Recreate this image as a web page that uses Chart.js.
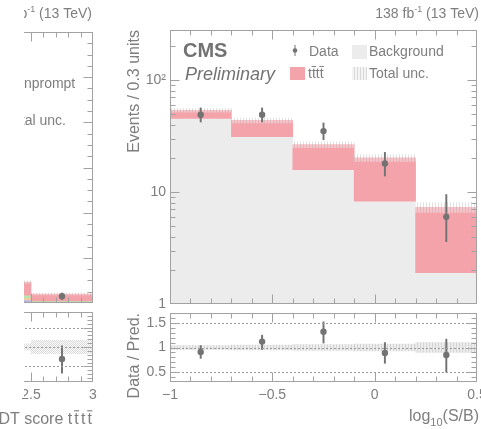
<!DOCTYPE html>
<html>
<head>
<meta charset="utf-8">
<script src="https://cdn.jsdelivr.net/npm/chart.js@4.4.1/dist/chart.umd.min.js"></script>
<style>
  html, body { margin: 0; padding: 0; background: #fff; overflow: hidden; }
  #wrap { position: relative; width: 481px; height: 429px; overflow: hidden; background: #fff; }
  canvas { position: absolute; top: 0; }
  #leftMain, #leftRatio { left: -60px; }
  #rightMain, #rightRatio { left: 0; }
  #mask { position: absolute; left: 0; top: 0; width: 24px; height: 398px; background: #fff; }
</style>
</head>
<body>
<div id="wrap">
  <canvas id="leftMain" width="160" height="429"></canvas>
  <canvas id="leftRatio" width="160" height="429"></canvas>
  <div id="mask"></div>
  <canvas id="rightMain" width="481" height="429"></canvas>
  <canvas id="rightRatio" width="481" height="429"></canvas>
</div>
<script>
// ---------- log10(S/B) distribution (right panel) ----------
const binCenters      = [-0.85, -0.55, -0.25, 0.05, 0.35];
const backgroundYield = [45.5, 31.3, 15.8, 8.3, 1.9];
const ttttYield       = [8.2, 12.3, 10.7, 11.9, 5.4];
const totalUncFrac    = [0.04, 0.05, 0.06, 0.07, 0.10];
const dataCounts      = [49, 49, 35, 18, 6];
const dataErrLow      = [42.2, 42.2, 29.3, 13.9, 3.6];
const dataErrHigh     = [56.4, 56.4, 41.4, 22.6, 9.5];
const ratioValues     = [0.91, 1.12, 1.32, 0.89, 0.85];
const ratioErrLow     = [0.78, 0.96, 1.09, 0.68, 0.50];
const ratioErrHigh    = [1.04, 1.25, 1.52, 1.10, 1.17];
const xTickValues     = [-1, -0.5, 0, 0.5];
const xTickLabels     = ['\u22121', '\u22120.5', '0', '0.5'];
const mainYTickValues = [1, 10, 100];
const mainYTickLabels = ['1', '10', '10\u00B2'];
const ratioYTickValues = [0.5, 1, 1.5];
const ratioYTickLabels = ['0.5', '1', '1.5'];

// ---------- BDT score distribution (left panel, last bins) ----------
const leftBinCenters = [2.25, 2.75];
const leftBlue       = [1.4, 0.3];
const leftOrange     = [1.0, 0.2];
const leftGreen      = [1.1, 0.4];
const leftTttt       = [5.8, 3.1];
const leftUncFrac    = [0.06, 0.10];
const leftDataX      = [2.75];
const leftDataY      = [3];
const leftDataLow    = [1.6];
const leftDataHigh   = [4.4];
const leftRatio      = [0.69];
const leftRatioLow   = [0.33];
const leftRatioHigh  = [1.03];
const leftRatioUnc   = [0.08, 0.17];
const leftXTickValues = [2.5, 3];
const leftXTickLabels = ['2.5', '3'];

// ---------- styling ----------
const FONT = "'Liberation Sans', Arial, Helvetica, sans-serif";
const TXT = '#7e7e7e';
const FRAME = '#a2a2a2';
const DATA = '#737373';
const PINK = '#f5a3ab';
const BKG = '#ececec';
Chart.defaults.font.family = FONT;
Chart.defaults.color = TXT;

function makePattern(w, h, draw) {
  const c = document.createElement('canvas');
  c.width = w; c.height = h;
  const g = c.getContext('2d');
  draw(g);
  return g.createPattern(c, 'repeat');
}
const uncHatch = makePattern(3, 3, g => {
  g.fillStyle = 'rgba(255,255,255,0.35)';
  g.fillRect(0, 0, 3, 3);
  g.fillStyle = 'rgba(160,160,160,0.32)';
  g.fillRect(0, 0, 1, 3);
});
const ratioHatch = makePattern(3, 3, g => {
  g.fillStyle = 'rgba(220,220,220,0.55)';
  g.fillRect(0, 0, 3, 3);
  g.fillStyle = 'rgba(180,180,180,0.4)';
  g.fillRect(0, 0, 1, 3);
});
const checkHatch = makePattern(2, 2, g => {
  g.fillStyle = 'rgba(175,175,175,0.5)';
  g.fillRect(0, 0, 1, 1);
  g.fillRect(1, 1, 1, 1);
});

const range = (a, b, step) => {
  const out = [];
  for (let v = a; v <= b + 1e-9; v += step) out.push(+v.toFixed(6));
  return out;
};
const logMinor = [];
[1, 10, 100].forEach(d => { for (let k = 2; k <= 9; k++) logMinor.push(k * d); });

const floating = (xs, lo, hi) => xs.map((x, i) => ({ x, y: [lo[i], hi[i]] }));
const points = (xs, ys) => xs.map((x, i) => ({ x, y: ys[i] }));
const cumulative = (...layers) => {
  const out = [];
  let run = layers[0].map(() => 0);
  layers.forEach(l => { const lo = run.slice(); run = run.map((v, i) => v + l[i]); out.push([lo, run.slice()]); });
  return out;
};

const fixBox = (w, h) => s => {
  if (w !== undefined) s.width = w;
  if (h !== undefined) s.height = h;
  s.paddingLeft = s.paddingRight = s.paddingTop = s.paddingBottom = 0;
};

// Frame with inward ROOT-style ticks, plus optional dotted reference lines
const rootFrame = {
  id: 'rootFrame',
  afterDatasetsDraw(chart, _args, o) {
    const { ctx, chartArea: a } = chart;
    const xs = chart.scales.x, ys = chart.scales.y;
    ctx.save();
    ctx.lineWidth = 1;
    const seg = (x1, y1, x2, y2) => { ctx.beginPath(); ctx.moveTo(x1, y1); ctx.lineTo(x2, y2); ctx.stroke(); };
    if (o.refLines) {
      ctx.strokeStyle = '#9a9a9a';
      ctx.setLineDash([2, 2]);
      o.refLines.forEach(v => {
        const py = Math.round(ys.getPixelForValue(v)) + 0.5;
        seg(a.left, py, a.right, py);
      });
      ctx.setLineDash([]);
    }
    ctx.strokeStyle = FRAME;
    const L = Math.round(a.left) + 0.5, R = Math.round(a.right) - 0.5;
    const T = Math.round(a.top) + 0.5, B = Math.round(a.bottom) - 0.5;
    const xTick = (v, len) => {
      const px = Math.round(xs.getPixelForValue(v)) + 0.5;
      if (px < L - 0.1 || px > R + 0.1) return;
      if (o.bottom !== false) seg(px, B, px, B - len);
      if (o.top !== false) seg(px, T, px, T + len);
    };
    const yTick = (v, len) => {
      const py = Math.round(ys.getPixelForValue(v)) + 0.5;
      if (py < T - 0.1 || py > B + 0.1) return;
      if (o.left !== false) seg(L, py, L + len, py);
      if (o.right !== false) seg(R, py, R - len, py);
    };
    (o.xMinor || []).forEach(v => xTick(v, o.minLen));
    (o.xMajor || []).forEach(v => xTick(v, o.majLen));
    (o.yMinor || []).forEach(v => yTick(v, o.minLen));
    (o.yMajor || []).forEach(v => yTick(v, o.majLen));
    ctx.strokeRect(L, T, R - L, B - T);
    ctx.restore();
  }
};
Chart.register(rootFrame);

function baseOptions(pad) {
  return {
    responsive: false,
    animation: false,
    events: [],
    layout: { padding: pad },
    plugins: { legend: { display: false }, tooltip: { enabled: false } }
  };
}

function drawTtbar(ctx, x, y, size, advance) {
  ctx.font = size + 'px ' + FONT;
  ctx.textAlign = 'left';
  const tw = ctx.measureText('t').width;
  for (let i = 0; i < 4; i++) {
    const tx = x + i * advance;
    ctx.fillText('t', tx, y);
    if (i % 2 === 1) {
      ctx.fillRect(tx - 0.3, y - size * 0.86, tw + 0.6, Math.max(1, size * 0.07));
    }
  }
  return advance * 3 + tw;
}

function drawLumi(ctx, xRight, y) {
  ctx.textAlign = 'left';
  ctx.font = '14px ' + FONT;
  const w1 = ctx.measureText('138 fb').width;
  const w3 = ctx.measureText(' (13 TeV)').width;
  ctx.font = '9px ' + FONT;
  const w2 = ctx.measureText('-1').width;
  let x = xRight - w1 - w2 - w3;
  ctx.font = '14px ' + FONT;
  ctx.fillText('138 fb', x, y); x += w1;
  ctx.font = '9px ' + FONT;
  ctx.fillText('-1', x, y - 6); x += w2;
  ctx.font = '14px ' + FONT;
  ctx.fillText(' (13 TeV)', x, y);
}

// ================= right panel: main =================
const totalYield = backgroundYield.map((b, i) => b + ttttYield[i]);
const rightMainText = {
  id: 'rightMainText',
  afterDraw(chart) {
    const ctx = chart.ctx;
    ctx.save();
    ctx.fillStyle = TXT;
    ctx.textBaseline = 'alphabetic';
    drawLumi(ctx, 479, 18);
    ctx.fillStyle = '#727272';
    ctx.textAlign = 'left';
    ctx.font = 'bold 20px ' + FONT;
    ctx.fillText('CMS', 183, 57);
    ctx.font = 'italic 18px ' + FONT;
    ctx.fillText('Preliminary', 185, 80);
    // legend
    ctx.fillStyle = DATA;
    ctx.fillRect(294.5, 45, 1, 11);
    ctx.beginPath(); ctx.arc(295, 50.5, 2.3, 0, Math.PI * 2); ctx.fill();
    ctx.fillStyle = BKG;
    ctx.fillRect(352, 45, 15, 14);
    ctx.fillStyle = PINK;
    ctx.fillRect(290, 67, 15, 13);
    ctx.fillStyle = '#eeeeee';
    ctx.fillRect(352, 67, 15, 13);
    ctx.fillStyle = uncHatch;
    ctx.fillRect(352, 67, 15, 13);
    ctx.fillStyle = TXT;
    ctx.font = '14px ' + FONT;
    ctx.fillText('Data', 309, 56);
    ctx.fillText('Background', 369, 56);
    ctx.fillText('Total unc.', 369, 78);
    drawTtbar(ctx, 308, 78, 14, 3.9);
    ctx.restore();
  }
};

new Chart(document.getElementById('rightMain'), {
  type: 'bar',
  data: {
    datasets: [
      { type: 'scatter', data: points(binCenters, dataCounts), pointRadius: 3.2,
        pointBackgroundColor: DATA, pointBorderWidth: 0, order: 0 },
      { data: floating(binCenters, dataErrLow, dataErrHigh), backgroundColor: DATA,
        barThickness: 1.3, grouped: false, order: 1 },
      { data: floating(binCenters, totalYield.map((t, i) => t * (1 - totalUncFrac[i])),
                                   totalYield.map((t, i) => t * (1 + totalUncFrac[i]))),
        backgroundColor: uncHatch, grouped: false, barPercentage: 1, categoryPercentage: 1, order: 2 },
      { data: floating(binCenters, backgroundYield, totalYield), backgroundColor: PINK,
        grouped: false, barPercentage: 1, categoryPercentage: 1, order: 3 },
      { data: floating(binCenters, binCenters.map(() => 1), backgroundYield), backgroundColor: BKG,
        grouped: false, barPercentage: 1, categoryPercentage: 1, order: 4 }
    ]
  },
  options: Object.assign(baseOptions({ left: 125, top: 30, right: 2, bottom: 125 }), {
    scales: {
      x: { type: 'linear', min: -1, max: 0.5, offset: false, display: false,
           grid: { offset: false },
           afterBuildTicks: s => { s.ticks = xTickValues.map(v => ({ value: v })); } },
      y: { type: 'logarithmic', min: 1, max: 280, position: 'left',
           grid: { display: false, drawTicks: false }, border: { display: false },
           ticks: { color: TXT, font: { size: 14 }, padding: 4, autoSkip: false,
                    callback: (v, i) => mainYTickLabels[i] },
           afterBuildTicks: s => { s.ticks = mainYTickValues.map(v => ({ value: v })); },
           afterFit: fixBox(45),
           title: { display: true, text: 'Events / 0.3 units', align: 'end', color: TXT,
                    font: { size: 16 }, padding: 0 } }
    },
    plugins: {
      legend: { display: false }, tooltip: { enabled: false },
      rootFrame: { xMajor: xTickValues, xMinor: range(-1, 0.5, 0.1),
                   yMajor: mainYTickValues, yMinor: logMinor, majLen: 9, minLen: 5 }
    }
  }),
  plugins: [rightMainText]
});

// ================= right panel: ratio =================
const rightRatioText = {
  id: 'rightRatioText',
  afterDraw(chart) {
    const ctx = chart.ctx;
    ctx.save();
    ctx.fillStyle = TXT;
    ctx.textBaseline = 'alphabetic';
    ctx.textAlign = 'left';
    ctx.font = '16px ' + FONT;
    const wSB = ctx.measureText('(S/B)').width;
    const wLog = ctx.measureText('log').width;
    ctx.font = '11px ' + FONT;
    const wSub = ctx.measureText('10').width;
    let x = 479 - wSB - wSub - wLog;
    ctx.font = '16px ' + FONT;
    ctx.fillText('log', x, 421); x += wLog;
    ctx.font = '11px ' + FONT;
    ctx.fillText('10', x, 426); x += wSub;
    ctx.font = '16px ' + FONT;
    ctx.fillText('(S/B)', x, 421);
    ctx.restore();
  }
};

new Chart(document.getElementById('rightRatio'), {
  type: 'bar',
  data: {
    datasets: [
      { type: 'scatter', data: points(binCenters, ratioValues), pointRadius: 3.2,
        pointBackgroundColor: DATA, pointBorderWidth: 0, order: 0 },
      { data: floating(binCenters, ratioErrLow, ratioErrHigh), backgroundColor: DATA,
        barThickness: 1.3, grouped: false, order: 1 },
      { data: floating(binCenters, totalUncFrac.map(u => 1 - u), totalUncFrac.map(u => 1 + u)),
        backgroundColor: ratioHatch, grouped: false, barPercentage: 1, categoryPercentage: 1, order: 2 }
    ]
  },
  options: Object.assign(baseOptions({ left: 125, top: 313, right: 2, bottom: 17 }), {
    scales: {
      x: { type: 'linear', min: -1, max: 0.5, offset: false, position: 'bottom',
           grid: { display: false, drawTicks: false, offset: false }, border: { display: false },
           ticks: { color: TXT, font: { size: 14 }, padding: 5, autoSkip: false,
                    maxRotation: 0, minRotation: 0, callback: (v, i) => xTickLabels[i] },
           afterBuildTicks: s => { s.ticks = xTickValues.map(v => ({ value: v })); },
           afterFit: fixBox(undefined, 30) },
      y: { type: 'linear', min: 0.3, max: 1.7, position: 'left',
           grid: { display: false, drawTicks: false }, border: { display: false },
           ticks: { color: TXT, font: { size: 14 }, padding: 4, autoSkip: false,
                    callback: (v, i) => ratioYTickLabels[i] },
           afterBuildTicks: s => { s.ticks = ratioYTickValues.map(v => ({ value: v })); },
           afterFit: fixBox(45),
           title: { display: true, text: 'Data / Pred.', align: 'end', color: TXT,
                    font: { size: 16 }, padding: 0 } }
    },
    plugins: {
      legend: { display: false }, tooltip: { enabled: false },
      rootFrame: { xMajor: xTickValues, xMinor: range(-1, 0.5, 0.1),
                   yMajor: ratioYTickValues, yMinor: range(0.4, 1.6, 0.1),
                   refLines: ratioYTickValues, majLen: 9, minLen: 5 }
    }
  }),
  plugins: [rightRatioText]
});

// ================= left panel: main =================
const leftLayers = cumulative(leftBlue, leftOrange, leftGreen, leftTttt);
const leftTotal = leftLayers[3][1];
const leftMainText = {
  id: 'leftMainText',
  afterDraw(chart) {
    const ctx = chart.ctx;
    ctx.save();
    ctx.fillStyle = TXT;
    ctx.textBaseline = 'alphabetic';
    drawLumi(ctx, 152, 18);
    ctx.textAlign = 'left';
    ctx.font = '14px ' + FONT;
    ctx.fillText('Nonprompt', 66, 88);
    ctx.fillText('Total unc.', 66, 125);
    ctx.restore();
  }
};

new Chart(document.getElementById('leftMain'), {
  type: 'bar',
  data: {
    datasets: [
      { type: 'scatter', data: points(leftDataX, leftDataY), pointRadius: 3.2,
        pointBackgroundColor: DATA, pointBorderWidth: 0, order: 0 },
      { data: floating(leftDataX, leftDataLow, leftDataHigh), backgroundColor: DATA,
        barThickness: 1.3, grouped: false, order: 1 },
      { data: floating(leftBinCenters, leftTotal.map((t, i) => t * (1 - leftUncFrac[i])),
                                       leftTotal.map((t, i) => t * (1 + leftUncFrac[i]))),
        backgroundColor: uncHatch, grouped: false, barPercentage: 1, categoryPercentage: 1, order: 2 },
      { data: floating(leftBinCenters, leftLayers[3][0], leftLayers[3][1]), backgroundColor: PINK,
        grouped: false, barPercentage: 1, categoryPercentage: 1, order: 3 },
      { data: floating(leftBinCenters, leftLayers[2][0], leftLayers[2][1]), backgroundColor: '#b6e6ad',
        grouped: false, barPercentage: 1, categoryPercentage: 1, order: 4 },
      { data: floating(leftBinCenters, leftLayers[1][0], leftLayers[1][1]), backgroundColor: '#f3cba0',
        grouped: false, barPercentage: 1, categoryPercentage: 1, order: 5 },
      { data: floating(leftBinCenters, leftLayers[0][0], leftLayers[0][1]), backgroundColor: '#b3b8ef',
        grouped: false, barPercentage: 1, categoryPercentage: 1, order: 6 }
    ]
  },
  options: Object.assign(baseOptions({ left: 29, top: 32, right: 7, bottom: 126 }), {
    scales: {
      x: { type: 'linear', min: 2, max: 3, offset: false, display: false, grid: { offset: false },
           afterBuildTicks: s => { s.ticks = [2, 2.5, 3].map(v => ({ value: v })); } },
      y: { type: 'linear', min: 0, max: 120, display: false }
    },
    plugins: {
      legend: { display: false }, tooltip: { enabled: false },
      rootFrame: { xMajor: [2, 2.5, 3], xMinor: range(2, 3, 0.1), bottom: true,
                   yMajor: range(0, 120, 20), yMinor: range(0, 120, 5), majLen: 9, minLen: 5 }
    }
  }),
  plugins: [leftMainText]
});

// ================= left panel: ratio =================
const leftRatioText = {
  id: 'leftRatioText',
  afterDraw(chart) {
    const ctx = chart.ctx;
    ctx.save();
    ctx.fillStyle = TXT;
    ctx.textBaseline = 'alphabetic';
    ctx.textAlign = 'left';
    ctx.font = '16px ' + FONT;
    const head = 'BDT score ';
    const wHead = ctx.measureText(head).width;
    const adv = 6.6;
    const wT = adv * 3 + ctx.measureText('t').width;
    const x = 152 - wHead - wT;
    ctx.fillText(head, x, 424);
    drawTtbar(ctx, x + wHead, 424, 16, adv);
    ctx.restore();
  }
};

new Chart(document.getElementById('leftRatio'), {
  type: 'bar',
  data: {
    datasets: [
      { type: 'scatter', data: points(leftDataX, leftRatio), pointRadius: 3.2,
        pointBackgroundColor: DATA, pointBorderWidth: 0, order: 0 },
      { data: floating(leftDataX, leftRatioLow, leftRatioHigh), backgroundColor: DATA,
        barThickness: 1.3, grouped: false, order: 1 },
      { data: floating(leftBinCenters, leftRatioUnc.map(u => 1 - u), leftRatioUnc.map(u => 1 + u)),
        backgroundColor: checkHatch, grouped: false, barPercentage: 1, categoryPercentage: 1, order: 2 }
    ]
  },
  options: Object.assign(baseOptions({ left: 29, top: 312, right: 7, bottom: 17 }), {
    scales: {
      x: { type: 'linear', min: 2, max: 3, offset: false, position: 'bottom',
           grid: { display: false, drawTicks: false, offset: false }, border: { display: false },
           ticks: { color: TXT, font: { size: 14 }, padding: 5, autoSkip: false,
                    maxRotation: 0, minRotation: 0, callback: (v, i) => leftXTickLabels[i] },
           afterBuildTicks: s => { s.ticks = leftXTickValues.map(v => ({ value: v })); },
           afterFit: fixBox(undefined, 30) },
      y: { type: 'linear', min: 0.1, max: 1.9, display: false }
    },
    plugins: {
      legend: { display: false }, tooltip: { enabled: false },
      rootFrame: { xMajor: [2, 2.5, 3], xMinor: range(2, 3, 0.1),
                   yMajor: [0.5, 1, 1.5], yMinor: range(0.2, 1.8, 0.1),
                   refLines: [0.5, 1, 1.5], majLen: 9, minLen: 5 }
    }
  }),
  plugins: [leftRatioText]
});
</script>
</body>
</html>
